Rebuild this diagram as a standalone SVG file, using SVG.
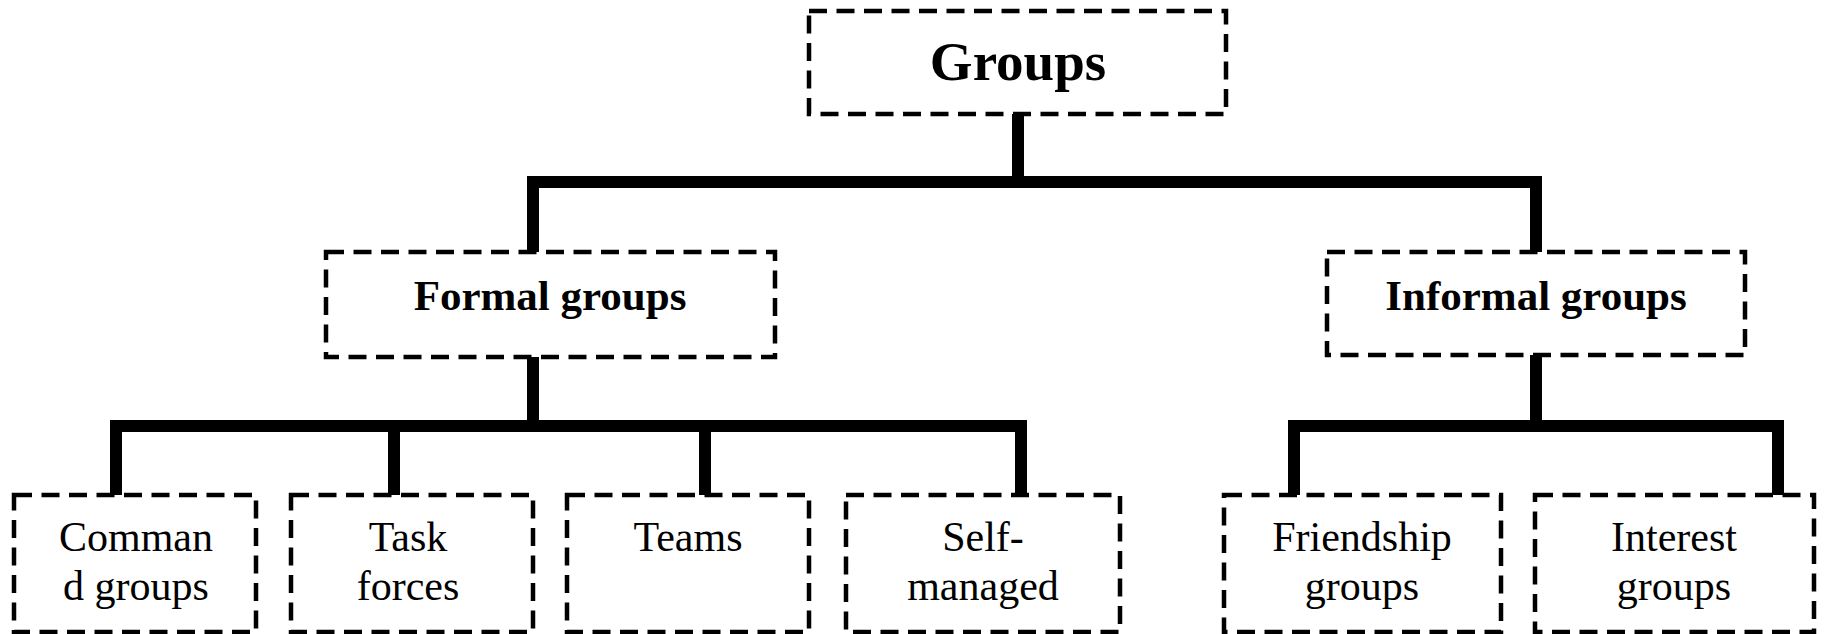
<svg xmlns="http://www.w3.org/2000/svg" width="1825" height="634" viewBox="0 0 1825 634">
<style>
.box{fill:#fff;stroke:#000;stroke-width:4.5;stroke-dasharray:18 9.5}
.conn{fill:none;stroke:#000;stroke-width:12;stroke-linejoin:miter;stroke-linecap:square}
.t{font-family:"Liberation Serif","Times New Roman",serif;fill:#000;text-anchor:middle}
.b{font-weight:bold}
.s{font-size:42px}
</style>
<rect width="1825" height="634" fill="#fff"/>
<g id="connectors">
<path class="conn" d="M1018 116 V182 M533 250 V182 H1536 V250"/>
<path class="conn" d="M533 358 V426 M116 493 V426 H1021 V493 M394 426 V493 M705 426 V493"/>
<path class="conn" d="M1536 357 V426 M1294 493 V426 H1778 V493"/>
</g>
<g id="groups">
<rect class="box" x="809" y="11" width="417" height="103"/>
<text class="t b" x="1018" y="80" font-size="55">Groups</text>
</g>
<g id="formal">
<rect class="box" x="326" y="252" width="449" height="105"/>
<text class="t b" x="550" y="310" font-size="43">Formal groups</text>
</g>
<g id="informal">
<rect class="box" x="1327" y="252" width="418" height="103"/>
<text class="t b" x="1536" y="310" font-size="43">Informal groups</text>
</g>
<g id="command">
<rect class="box" x="14" y="495" width="242" height="137"/>
<text class="t s" x="136" y="551">Comman</text>
<text class="t s" x="136" y="600">d groups</text>
</g>
<g id="task">
<rect class="box" x="291" y="495" width="242" height="137"/>
<text class="t s" x="408" y="551">Task</text>
<text class="t s" x="408" y="600">forces</text>
</g>
<g id="teams">
<rect class="box" x="567" y="495" width="242" height="137"/>
<text class="t s" x="688" y="551">Teams</text>
</g>
<g id="selfmanaged">
<rect class="box" x="846" y="495" width="274" height="137"/>
<text class="t s" x="983" y="551">Self-</text>
<text class="t s" x="983" y="600">managed</text>
</g>
<g id="friendship">
<rect class="box" x="1224" y="495" width="277" height="137"/>
<text class="t s" x="1362" y="551">Friendship</text>
<text class="t s" x="1362" y="600">groups</text>
</g>
<g id="interest">
<rect class="box" x="1535" y="495" width="279" height="137"/>
<text class="t s" x="1674" y="551">Interest</text>
<text class="t s" x="1674" y="600">groups</text>
</g>
</svg>
